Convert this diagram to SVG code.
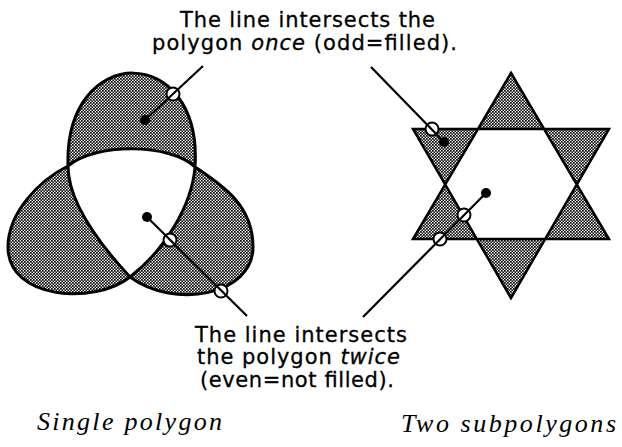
<svg xmlns="http://www.w3.org/2000/svg" width="622" height="447" viewBox="0 0 622 447">
  <defs>
    <pattern id="halftone" width="3" height="3" patternUnits="userSpaceOnUse">
      <rect width="3" height="3" fill="#ffffff"/>
      <rect x="0" y="0" width="1.7" height="1.7" fill="#000000"/>
      <rect x="1.5" y="1.5" width="1.7" height="1.7" fill="#000000"/>
    </pattern>
    <style>
      .shape { fill: url(#halftone); fill-rule: evenodd; stroke: #000; stroke-linejoin: miter; }
      .ray { stroke: #000; stroke-width: 2.2; fill: none; stroke-linecap: butt; }
      .cross { fill: #fff; stroke: #000; stroke-width: 2; }
      .dot { fill: #000; }
      .lbl { font-family: "DejaVu Sans", "Liberation Sans", sans-serif; font-size: 21px; fill: #000; stroke: #000; stroke-width: 0.3; }
      .cap { font-family: "Liberation Serif", serif; font-style: italic; font-size: 26px; fill: #000; }
      .it { font-style: italic; }
    </style>
  </defs>
  <rect width="622" height="447" fill="#fff"/>

  <g id="single-polygon">
    <path class="shape" stroke-width="3"
      d="M68,166 C64,42 203,42 195,167
         C192,205 165,250 130,277
         C95,305 8,300 8,247
         C8,212 40,180 68,166
         C95,143 170,143 195,167
         C222,185 253,205 253,247
         C253,295 175,310 130,277
         C105,250 68,205 68,166 Z"/>
  </g>

  <g id="two-subpolygons">
    <path class="shape" stroke-width="2.5"
      d="M511,73 L609,239 L413,239 Z M511,298 L413,129 L609,129 Z"/>
  </g>

  <g id="connectors">
    <circle class="cross" cx="173" cy="94" r="6.5"/>
    <circle class="cross" cx="170" cy="240" r="6.5"/>
    <circle class="cross" cx="221" cy="291" r="6.5"/>
    <circle class="cross" cx="432" cy="129" r="6.5"/>
    <circle class="cross" cx="464" cy="215" r="6.5"/>
    <circle class="cross" cx="440" cy="239" r="6.5"/>

    <line class="ray" x1="203" y1="66" x2="145" y2="120"/>
    <line class="ray" x1="147" y1="217" x2="247" y2="316"/>
    <line class="ray" x1="371" y1="67" x2="444" y2="142"/>
    <line class="ray" x1="486" y1="193" x2="363" y2="317"/>

    <circle class="dot" cx="145" cy="120" r="5"/>
    <circle class="dot" cx="147" cy="217" r="5"/>
    <circle class="dot" cx="444" cy="142" r="5"/>
    <circle class="dot" cx="486" cy="193" r="5"/>
  </g>

  <g id="label-once">
    <text class="lbl" x="180" y="27" textLength="255" lengthAdjust="spacing">The line intersects the</text>
    <text class="lbl" x="152" y="50" textLength="305" lengthAdjust="spacing">polygon <tspan class="it">once</tspan> (odd=filled).</text>
  </g>

  <g id="label-twice">
    <text class="lbl" x="195" y="342" textLength="212" lengthAdjust="spacing">The line intersects</text>
    <text class="lbl" x="197" y="364" textLength="203" lengthAdjust="spacing">the polygon <tspan class="it">twice</tspan></text>
    <text class="lbl" x="200" y="387" textLength="194" lengthAdjust="spacing">(even=not filled).</text>
  </g>

  <g id="captions">
    <text class="cap" x="37" y="430" textLength="185" lengthAdjust="spacing">Single polygon</text>
    <text class="cap" x="401" y="432" textLength="215" lengthAdjust="spacing">Two subpolygons</text>
  </g>
</svg>
